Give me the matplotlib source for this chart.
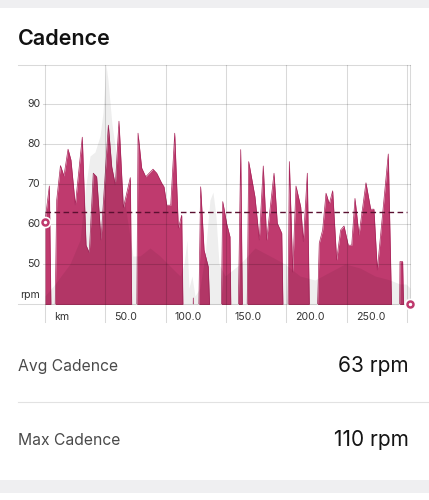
import matplotlib
matplotlib.use("Agg")

import matplotlib.pyplot as plt
import matplotlib.transforms as mtransforms
from matplotlib.patches import Rectangle
from matplotlib.lines import Line2D

plt.rcParams["font.family"] = ["Inter", "DejaVu Sans"]

# ===== data =====
km = [0.0, 3.6, 6.6, 9.7, 12.8, 15.7, 19.1, 21.5, 25.1, 30.9, 34.0, 36.7, 40.0, 42.8,
      46.4, 52.5, 55.3, 58.3, 61.3, 64.9, 70.7, 73.2, 75.2, 77.1, 80.1, 83.5, 89.5,
      92.6, 96.7, 98.6, 100.9, 104.2, 107.5, 110.5, 113.3, 116.0, 121.0, 122.9, 124.7,
      125.5, 129.0, 131.8, 135.3, 140.9, 144.4, 147.3, 150.6, 153.3, 155.5, 158.3,
      162.2, 164.9, 166.2, 168.8, 174.0, 177.6, 180.9, 183.7, 189.8, 192.5, 196.2,
      199.3, 200.3, 202.5, 205.3, 208.0, 211.9, 214.1, 217.4, 221.0, 222.3, 227.3,
      230.1, 232.9, 235.6, 238.4, 241.7, 245.0, 247.8, 251.3, 254.2, 256.9, 260.2,
      266.0, 269.9, 272.6, 275.4, 284.5, 290.0, 292.9, 294.2, 296.4, 299.7, 302.5]
cadence = [60.6, 69.5, 0, 66, 74.6, 72, 78.7, 76, 64.7, 81.7, 54.7, 52.8, 72.7, 71.8,
           56, 84.7, 74.3, 69.7, 85.7, 64, 71.6, 0, 0, 82.7, 74, 71.8, 73.7,
           72.7, 70.2, 69.3, 64.7, 64.7, 82.7, 58.9, 62.2, 0, 0, 41.5, 0,
           0, 69.3, 53.5, 49.3, 0, 0, 65.6, 60, 56.8, 0, 0,
           78.6, 0, 0, 75.6, 66.8, 56, 74.5, 56, 72.7, 60.2, 57.7,
           0, 0, 75.6, 48, 69.5, 64.3, 55.6, 72.7, 0, 0, 55.2,
           58.5, 67.7, 65, 68.3, 51, 58.5, 59.5, 54.7, 54.7, 66.4, 57.2,
           70.3, 63.7, 63.7, 48.5, 77.5, 0, 0, 50.6, 50.6, 0, 0]

# grey background series (drawn as a translucent overlay)
bg_km = [0.0, 8.3, 20.7, 29.0, 34.0, 37.3, 41.4, 45.6, 48.1, 50.5, 52.2, 55.5, 58.8,
         63.8, 68.8, 72.9, 78.7, 87.0, 95.3, 105.2, 111.9, 115.2, 117.7, 119.3, 121.8,
         124.3, 128.4, 132.6, 136.7, 139.2, 141.7, 144.2, 149.2, 161.6, 174.0, 186.5,
         198.9, 211.3, 223.7, 236.2, 248.6, 261.0, 273.5, 285.9, 294.2, 299.2, 302.5]
bg_value = [42, 45, 50, 56, 70, 77, 78, 82, 88, 100, 96, 85, 78,
            70, 60, 52, 52, 54, 52, 49, 47, 50, 56, 44, 47,
            42, 44, 52, 66, 68, 62, 50, 47, 50, 54, 52,
            50, 47, 46, 48, 50, 49, 47, 46, 45, 45, 44]

avg_cadence = 63
max_cadence = 110
y_ticks = [50, 60, 70, 80, 90]
x_ticks = [0, 50, 100, 150, 200, 250, 300]
x_labels = ["km", "50.0", "100.0", "150.0", "200.0", "250.0", ""]

MAGENTA = "#bf3a6e"
EDGE = "#a8245a"
DASH = "#5a1030"
TEXT = "#333333"

fig = plt.figure(figsize=(4.29, 5.0), dpi=100)
fig.patch.set_facecolor("white")

# top / bottom grey bands of the card
fig.add_artist(Rectangle((0, 1 - 8 / 500), 1, 8 / 500, transform=fig.transFigure,
                         facecolor="#efeff1", edgecolor="none"))
fig.add_artist(Rectangle((0, 7 / 500), 1, 13 / 500, transform=fig.transFigure,
                         facecolor="#efeff1", edgecolor="none"))

fig.text(18 / 429, 1 - 45 / 500, "Cadence", fontsize=15.5, fontweight="semibold",
         color="#111111", ha="left", va="baseline")

ax = fig.add_axes([45 / 429, 196 / 500, 365 / 429, 239 / 500])
ax.set_xlim(0, 302.5)
ax.set_ylim(40, 99.75)
ax.axis("off")

ax.fill_between(km, cadence, 0, color=MAGENTA, lw=0, zorder=1)
ax.plot(km, cadence, color=EDGE, lw=0.5, zorder=1.5)
ax.fill_between(bg_km, bg_value, 0, color="black", alpha=0.065, lw=0, zorder=2)

grid_kw = dict(color="black", alpha=0.15, lw=0.75, clip_on=False, zorder=3)
for y in y_ticks:
    ax.axhline(y, xmin=-0.006, xmax=1, **grid_kw)
ax.axhline(40, xmin=-0.074, xmax=1, **grid_kw)
ax.axhline(99.75, xmin=-0.074, xmax=1, **grid_kw)
for x in x_ticks:
    ax.axvline(x, ymin=-0.074, ymax=1, **grid_kw)
ax.add_line(Line2D([1, 1], [0, 1], transform=ax.transAxes, **grid_kw))

ax.hlines(avg_cadence, 0, 300, colors=DASH, lw=1.0, linestyles=(0, (4, 2.5)), zorder=4)

# start / end markers
for x, y in [(km[0], cadence[0]), (km[-1], max(cadence[-1], 40))]:
    ax.plot(x, y, "o", ms=8.5, mfc="white", mec="none", clip_on=False, zorder=5)
    ax.plot(x, y, "o", ms=4.3, mfc="white", mec=MAGENTA, mew=1.8, clip_on=False, zorder=6)

# axis labels
xtrans = mtransforms.blended_transform_factory(ax.transData, ax.transAxes) + \
    mtransforms.ScaledTranslation(9 / 100, -13 / 100, fig.dpi_scale_trans)
for x, lab in zip(x_ticks, x_labels):
    ax.text(x, 0, lab, transform=xtrans, ha="left", va="center", fontsize=7.6, color=TEXT)

ytrans = mtransforms.blended_transform_factory(ax.transAxes, ax.transData) + \
    mtransforms.ScaledTranslation(-5 / 100, 0, fig.dpi_scale_trans)
for y in y_ticks:
    ax.text(0, y, str(y), transform=ytrans, ha="right", va="center", fontsize=7.6, color=TEXT)
rtrans = ytrans + mtransforms.ScaledTranslation(0, 9 / 100, fig.dpi_scale_trans)
ax.text(0, 40, "rpm", transform=rtrans, ha="right", va="center", fontsize=7.6, color=TEXT)

# summary rows
fig.add_artist(Line2D([18 / 429, 1], [1 - 401.7 / 500] * 2, transform=fig.transFigure,
                      color="#e2e2e2", lw=0.8))
fig.text(18 / 429, 1 - 370.7 / 500, "Avg Cadence", fontsize=11.3, color="#4a4a4a",
         ha="left", va="baseline")
fig.text(409 / 429, 1 - 372.5 / 500, f"{avg_cadence} rpm", fontsize=15, color="#151515",
         ha="right", va="baseline")
fig.text(18 / 429, 1 - 445 / 500, "Max Cadence", fontsize=11.3, color="#4a4a4a",
         ha="left", va="baseline")
fig.text(409 / 429, 1 - 446 / 500, f"{max_cadence} rpm", fontsize=15, color="#151515",
         ha="right", va="baseline")

fig.savefig("out.png", dpi=100)
